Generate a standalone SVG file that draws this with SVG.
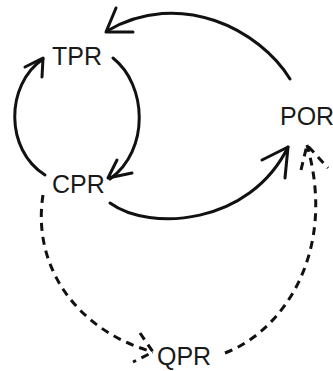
<svg xmlns="http://www.w3.org/2000/svg" width="333" height="371" viewBox="0 0 333 371">
<style>
.lbl{font-family:"Liberation Sans",Arial,sans-serif;font-size:25px;fill:#1a1a1a}
.solid{fill:none;stroke:#111;stroke-width:3;stroke-linecap:round;stroke-linejoin:round}
.dash{fill:none;stroke:#111;stroke-width:3;stroke-linecap:butt;stroke-dasharray:8,6}
</style>
<rect width="333" height="371" fill="#fff"/>
<g id="connectors">
  <g id="por-tpr">
    <path class="solid" d="M290,79 C260,30 180,-12 107,31"/>
    <polyline class="solid" points="116,8 106,32 133,32"/>
  </g>
  <g id="tpr-cpr">
    <path class="solid" d="M113,58 C147,85 150,150 110,179"/>
    <polyline class="solid" points="117,160 108,178 132,173"/>
  </g>
  <g id="cpr-tpr">
    <path class="solid" d="M45,175 C5,150 5,85 43,59"/>
    <polyline class="solid" points="25,67 43,58 42,77"/>
  </g>
  <g id="cpr-por">
    <path class="solid" d="M110,203 C150,232 250,225 288,147"/>
    <polyline class="solid" points="262,160 288,147 285,178"/>
  </g>
  <g id="cpr-qpr">
    <path class="dash" d="M43,195 C32,265 75,330 153,352"/>
    <polyline class="dash" points="140,333 153,352 133,362"/>
  </g>
  <g id="qpr-por">
    <path class="dash" d="M225,353 C285,330 337,250 307,145"/>
    <polyline class="dash" points="301,170 307,145 328,168"/>
  </g>
</g>
<g id="TPR"><text class="lbl" x="52" y="65">TPR</text></g>
<g id="CPR"><text class="lbl" x="52" y="193">CPR</text></g>
<g id="POR"><text class="lbl" x="280" y="125">POR</text></g>
<g id="QPR"><text class="lbl" x="157" y="365">QPR</text></g>
</svg>
